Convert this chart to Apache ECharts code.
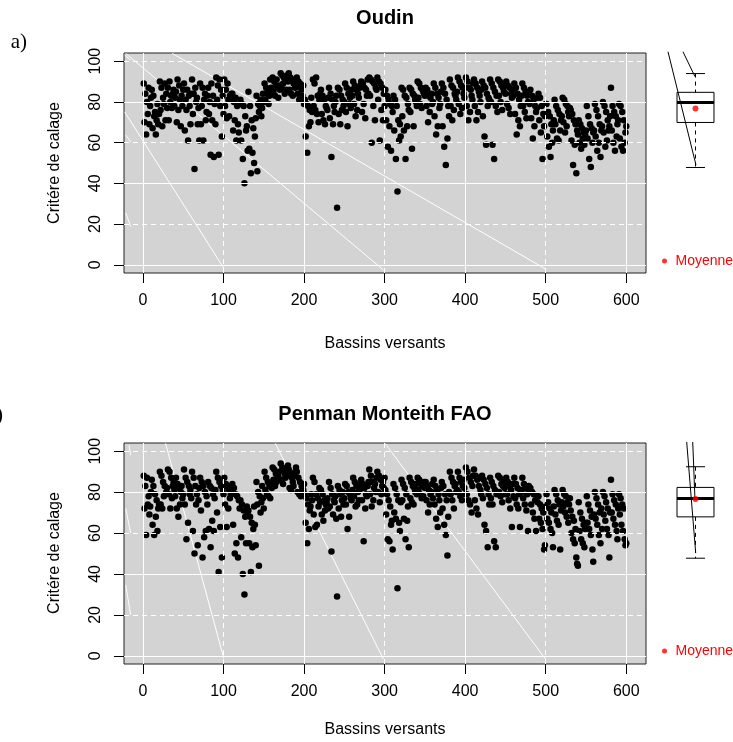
<!DOCTYPE html>
<html><head><meta charset="utf-8">
<script src="https://cdn.jsdelivr.net/npm/echarts@6/dist/echarts.min.js"></script>
<style>html,body{margin:0;padding:0;background:#fff}#c{width:733px;height:742px}</style>
</head><body><div id="c"></div>
<script>
// ---- data ----
var xTickValues = [0, 100, 200, 300, 400, 500, 600];
var yTickValues = [0, 20, 40, 60, 80, 100];
var gridSolidX = [0, 200, 400, 600];
var gridDashX = [100, 300, 500];
var gridSolidY = [0, 40, 80];
var gridDashY = [20, 60, 100];

// Critère de calage per catchment (catchments 1..600), Oudin
var oudinValues = [
89,70,84,64,80,74,87,69,78,82, 86,67,83,73,75,64,71,79,69,74, 90,76,87,68,82,79,89,71,84,77, 87,71,90,80,83,77,84,86,78,82,
85,70,91,76,88,81,68,83,78,86, 89,66,81,76,86,61,83,78,69,84, 91,74,84,47,87,80,82,69,77,61, 89,69,78,87,61,81,84,71,75,83,
87,74,80,54,89,71,83,53,79,69, 92,81,88,54,91,78,86,63,83,74, 91,78,86,72,89,81,73,83,82,84, 84,66,80,71,82,61,78,69,65,79,
81,61,79,52,78,40,73,66,68,56, 85,57,78,45,71,55,67,50,63,72, 83,46,79,75,78,81,73,77,84,80, 89,81,87,84,86,79,83,91,87,84,
92,85,90,83,88,91,87,82,88,86, 94,87,93,89,92,84,91,86,93,90, 94,86,92,84,91,83,89,90,87,88, 92,84,90,81,89,87,86,83,88,79,
81,63,79,55,78,68,76,70,82,75, 91,78,89,76,92,74,83,70,81,84, 86,74,83,71,81,69,78,77,76,82, 87,72,84,53,81,69,78,75,80,83,
28,87,74,86,69,83,76,81,78,80, 89,75,87,68,84,79,82,77,86,83, 90,79,88,73,86,76,84,82,87,88, 90,75,89,79,87,72,86,83,91,84,
92,83,91,60,90,78,89,71,87,86, 92,81,90,61,89,76,87,71,84,78, 86,71,83,58,81,68,79,56,78,75, 83,66,81,52,78,36,71,61,69,63,
87,73,86,66,83,52,82,68,79,76, 87,75,86,57,84,68,83,81,80,78, 90,82,89,79,87,77,86,85,84,83, 87,78,86,70,83,75,82,84,79,80,
89,73,87,64,84,68,82,77,79,85, 89,68,87,58,84,49,81,62,78,73, 91,78,88,71,87,76,84,83,81,85, 92,79,90,74,88,77,87,84,82,87,
92,78,90,71,87,75,86,83,81,89, 91,78,89,71,87,75,85,83,80,86, 90,73,88,63,87,59,84,78,82,81, 91,80,89,59,87,52,85,78,83,75,
91,83,90,80,88,76,87,85,88,84, 90,79,88,77,87,74,84,82,86,83, 89,74,87,64,84,71,81,68,78,83, 89,78,87,75,85,72,83,80,84,79,
86,72,83,62,81,68,78,75,77,82, 84,71,82,65,78,52,74,68,73,79, 79,63,75,58,73,53,69,60,66,71, 81,69,78,62,76,61,74,66,71,73,
82,70,81,65,79,68,78,75,73,77, 76,61,74,49,71,59,69,45,66,64, 71,60,69,57,67,62,65,59,64,66, 78,62,73,52,69,48,67,60,65,66,
79,63,76,56,73,60,69,53,66,68, 80,65,78,58,75,61,71,66,68,73, 87,66,78,60,75,56,73,63,69,71, 79,62,78,58,75,56,71,60,65,68
];

// Critère de calage per catchment (catchments 1..600), Penman Monteith FAO
var penmanValues = [
88,72,83,59,87,74,78,69,73,80, 86,64,83,59,79,68,76,61,72,74, 90,74,88,72,85,78,83,79,80,82, 91,79,90,72,87,77,83,85,81,78,
87,72,84,68,82,74,80,83,77,79, 91,74,87,57,85,65,83,79,81,77, 90,61,87,50,83,74,79,54,76,82, 87,71,85,48,83,58,80,61,78,74,
85,62,83,53,82,66,79,61,77,81, 90,70,87,41,85,63,83,48,81,79, 87,74,84,63,83,72,81,77,79,80, 84,64,82,50,79,55,78,48,76,72,
76,58,74,40,71,30,68,55,73,69, 71,55,68,41,65,53,62,73,64,54, 85,74,80,44,78,70,75,83,77,72, 90,81,87,79,85,78,83,77,84,82,
92,86,91,83,89,85,87,88,90,86, 94,86,92,84,91,89,87,91,88,93, 91,82,89,81,87,85,83,88,90,92, 90,80,87,79,85,78,83,82,81,84,
79,65,77,55,74,62,71,73,79,76, 87,69,85,63,79,64,77,73,82,75, 81,69,79,66,76,71,74,75,77,72, 85,73,82,51,79,69,76,75,78,67,
29,83,72,81,79,68,76,80,74,77, 84,74,83,62,80,68,79,77,76,81, 87,78,85,73,83,74,80,76,81,84, 86,76,84,56,82,72,79,78,83,85,
91,79,88,73,85,76,82,84,80,87, 90,80,88,75,86,79,83,85,82,87, 81,69,79,57,76,56,73,64,66,52, 84,70,82,67,79,33,76,65,61,75,
86,76,84,67,82,57,79,66,73,53, 87,77,85,75,83,74,82,80,84,79, 87,81,86,79,84,77,83,78,85,82, 85,76,83,70,81,74,79,80,84,77,
86,74,83,67,81,63,79,76,70,82, 85,72,83,64,79,59,76,49,68,80, 90,79,87,76,85,72,83,84,80,81, 90,80,87,78,85,76,83,86,82,79,
92,79,90,76,87,74,85,70,83,88, 91,76,88,72,86,69,83,87,81,79, 88,77,86,64,84,61,82,53,79,74, 87,77,85,74,83,56,81,53,79,80,
88,80,87,78,84,75,83,85,82,79, 87,79,85,76,83,72,81,63,84,78, 87,77,84,74,82,72,79,63,81,80, 87,77,84,74,82,71,79,61,83,80,
82,74,80,70,79,67,76,61,78,75, 78,67,74,65,72,62,70,52,54,73, 79,67,75,65,72,62,70,60,53,73, 81,69,79,66,76,64,74,52,71,75,
81,73,79,70,78,68,75,65,74,77, 71,60,68,57,66,55,62,48,45,44, 75,61,70,57,67,55,64,53,62,65, 78,65,74,62,71,59,68,52,46,69,
80,67,77,64,74,59,70,55,72,62, 80,69,78,66,75,62,72,59,48,70, 86,70,79,67,76,64,74,61,57,72, 79,69,77,64,74,61,72,57,54,55
];

// white guide segments inside each scatter panel: [[x1,y1],[x2,y2]]
var oudinWhiteLines = [
  [[-22.7, 75.1], [100.3, -1.6]],
  [[-21.4, 103.8], [298.5, -2.5]],
  [[36.4, 103.8], [499.7, -2.0]],
  [[-22.7, 103.0], [-15.2, 100.5]],
  [[-21.4, 63.7], [-15.2, 60.4]],
  [[-21.4, 25.5], [-15.2, 18.8]]
];
var penmanWhiteLines = [
  [[28.1, 103.8], [100.3, -1.1]],
  [[164.4, 103.8], [298.5, -1.6]],
  [[300.6, 103.8], [499.7, -1.6]],
  [[-17.3, 102.9], [-15.2, 98.0]],
  [[-21.4, 72.0], [-15.2, 60.0]],
  [[-21.4, 34.6], [-15.2, 20.0]]
];

// boxplot summaries: [lower whisker, Q1, median, Q3, upper whisker]
var oudinBox = [47.8, 69.9, 79.7, 84.7, 93.9];
var oudinMean = 76.7;
var penmanBox = [47.7, 67.9, 76.9, 82.3, 92.4];
var penmanMean = 76.6;

// black segments in the boxplot panels
var oudinBoxLines = [
  [[0.613, 104.6], [1.007, 49.0]],
  [[0.824, 104.6], [0.993, 92.4]]
];
var penmanBoxLines = [
  [[0.876, 104.5], [1.003, 50.2]],
  [[0.961, 104.5], [0.993, 76.0]]
];

var titles = ['Oudin', 'Penman Monteith FAO'];
var panelLetters = ['a)', 'b)'];
var xAxisTitle = 'Bassins versants';
var yAxisTitle = 'Critére de calage';
var meanLabel = 'Moyenne';

// ---- layout / style ----
var FONT = '"Liberation Sans", Arial, sans-serif';
var BOX_W = 0.521, CAP_W = 0.268;
var panelTop = [53, 443];
var panelH = [220, 221];

function boxRender(params, api) {
  var x = api.value(0);
  var lo = api.coord([x, api.value(1)]);
  var q1 = api.coord([x, api.value(2)]);
  var md = api.coord([x, api.value(3)]);
  var q3 = api.coord([x, api.value(4)]);
  var hi = api.coord([x, api.value(5)]);
  var hw = api.size([BOX_W, 0])[0] / 2;
  var cw = api.size([CAP_W, 0])[0] / 2;
  var cx = lo[0];
  return {
    type: 'group',
    children: [
      {type: 'line', shape: {x1: cx, y1: hi[1], x2: cx, y2: q3[1]}, style: {stroke: '#000', lineWidth: 1, lineDash: [4, 4]}},
      {type: 'line', shape: {x1: cx, y1: q1[1], x2: cx, y2: lo[1]}, style: {stroke: '#000', lineWidth: 1, lineDash: [4, 4]}},
      {type: 'line', shape: {x1: cx - cw, y1: hi[1], x2: cx + cw, y2: hi[1]}, style: {stroke: '#000', lineWidth: 1}},
      {type: 'line', shape: {x1: cx - cw, y1: lo[1], x2: cx + cw, y2: lo[1]}, style: {stroke: '#000', lineWidth: 1}},
      {type: 'rect', shape: {x: cx - hw, y: q3[1], width: 2 * hw, height: q1[1] - q3[1]}, style: {fill: 'none', stroke: '#000', lineWidth: 1}},
      {type: 'line', shape: {x1: cx - hw, y1: md[1], x2: cx + hw, y2: md[1]}, style: {stroke: '#000', lineWidth: 3}}
    ]
  };
}

var grids = [], xAxes = [], yAxes = [], series = [], legends = [];

function addPanel(p, values, whiteLines, box, mean, boxLines) {
  var mainIdx = 2 * p, boxIdx = 2 * p + 1;
  grids.push({left: 124, top: panelTop[p], width: 522, height: panelH[p], show: true,
    backgroundColor: '#d3d3d3', borderColor: '#222', borderWidth: 1});
  grids.push({left: 660, top: panelTop[p], width: 71, height: panelH[p], show: false});
  xAxes.push({type: 'value', gridIndex: mainIdx, min: -23.5, max: 624.5, position: 'bottom',
    axisLine: {show: false, onZero: false}, splitLine: {show: false},
    axisTick: {show: true, inside: false, customValues: xTickValues, length: 10, lineStyle: {color: '#000', width: 1}},
    axisLabel: {show: true, customValues: xTickValues, margin: 20, color: '#000', fontSize: 16, fontFamily: FONT}});
  xAxes.push({type: 'value', gridIndex: boxIdx, min: 0.5, max: 1.5, show: false});
  yAxes.push({type: 'value', gridIndex: mainIdx, min: -4, max: 104, position: 'left',
    axisLine: {show: false, onZero: false}, splitLine: {show: false},
    axisTick: {show: true, inside: false, customValues: yTickValues, length: 10, lineStyle: {color: '#000', width: 1}},
    axisLabel: {show: true, customValues: yTickValues, rotate: 90, margin: 20, color: '#000', fontSize: 16, fontFamily: FONT}});
  yAxes.push({type: 'value', gridIndex: boxIdx, min: -4, max: 104, show: false});

  var ml = [];
  gridSolidX.forEach(function (v) { ml.push({xAxis: v, lineStyle: {type: 'solid'}}); });
  gridDashX.forEach(function (v) { ml.push({xAxis: v, lineStyle: {type: [5, 4]}}); });
  gridSolidY.forEach(function (v) { ml.push({yAxis: v, lineStyle: {type: 'solid'}}); });
  gridDashY.forEach(function (v) { ml.push({yAxis: v, lineStyle: {type: [5, 4]}}); });
  series.push({type: 'line', xAxisIndex: mainIdx, yAxisIndex: mainIdx, data: [], z: 1, silent: true,
    markLine: {silent: true, symbol: ['none', 'none'], label: {show: false}, animation: false,
      lineStyle: {color: '#ffffff', width: 1}, data: ml}});

  whiteLines.forEach(function (seg) {
    series.push({type: 'line', xAxisIndex: mainIdx, yAxisIndex: mainIdx, data: seg, z: 2, silent: true,
      symbol: 'none', lineStyle: {color: '#ffffff', width: 1}});
  });

  var pts = values.map(function (v, i) { return [i + 1, v]; });
  series.push({type: 'scatter', xAxisIndex: mainIdx, yAxisIndex: mainIdx, data: pts, z: 3, silent: true,
    symbol: 'circle', symbolSize: 6.5, itemStyle: {color: '#000', opacity: 1}});

  series.push({type: 'custom', xAxisIndex: boxIdx, yAxisIndex: boxIdx, z: 3, silent: true,
    data: [[1].concat(box)], encode: {x: 0, y: [1, 2, 3, 4, 5]}, renderItem: boxRender});

  boxLines.forEach(function (seg) {
    series.push({type: 'line', xAxisIndex: boxIdx, yAxisIndex: boxIdx, data: seg, z: 4, silent: true, clip: false,
      symbol: 'none', lineStyle: {color: '#000', width: 1}});
  });

  series.push({type: 'scatter', name: meanLabel, xAxisIndex: boxIdx, yAxisIndex: boxIdx, data: [[1, mean]], z: 5,
    silent: true, symbol: 'circle', symbolSize: 6, itemStyle: {color: '#ff0000'}});

  legends.push({data: [meanLabel], left: 662, top: (p === 0 ? 254 : 644), padding: 0, icon: 'circle',
    itemWidth: 12, itemHeight: 5, selectedMode: false,
    textStyle: {color: '#ff0000', fontSize: 14, fontFamily: FONT}});
}

addPanel(0, oudinValues, oudinWhiteLines, oudinBox, oudinMean, oudinBoxLines);
addPanel(1, penmanValues, penmanWhiteLines, penmanBox, penmanMean, penmanBoxLines);

function txt(s, x, y, font, align, rot) {
  return {type: 'text', x: x, y: y, rotation: rot || 0, silent: true,
    style: {text: s, font: font, fill: '#000', textAlign: align || 'center', textVerticalAlign: 'middle'}};
}

var graphics = [
  txt(titles[0], 385, 18, 'bold 20px ' + FONT),
  txt(titles[1], 385, 414, 'bold 20px ' + FONT),
  txt(panelLetters[0], 27, 42, '21px "Liberation Serif", "Times New Roman", serif', 'right'),
  txt(panelLetters[1], 3, 415, '21px "Liberation Serif", "Times New Roman", serif', 'right'),
  txt(xAxisTitle, 385, 344, '16px ' + FONT),
  txt(xAxisTitle, 385, 730, '16px ' + FONT),
  txt(yAxisTitle, 55, 163, '16px ' + FONT, 'center', Math.PI / 2),
  txt(yAxisTitle, 55, 553, '16px ' + FONT, 'center', Math.PI / 2)
];

var chart = echarts.init(document.getElementById('c'), null, {renderer: 'canvas'});
chart.setOption({
  animation: false,
  backgroundColor: '#ffffff',
  textStyle: {fontFamily: FONT},
  grid: grids,
  xAxis: xAxes,
  yAxis: yAxes,
  legend: legends,
  series: series,
  graphic: graphics
});
</script>
</body></html>
